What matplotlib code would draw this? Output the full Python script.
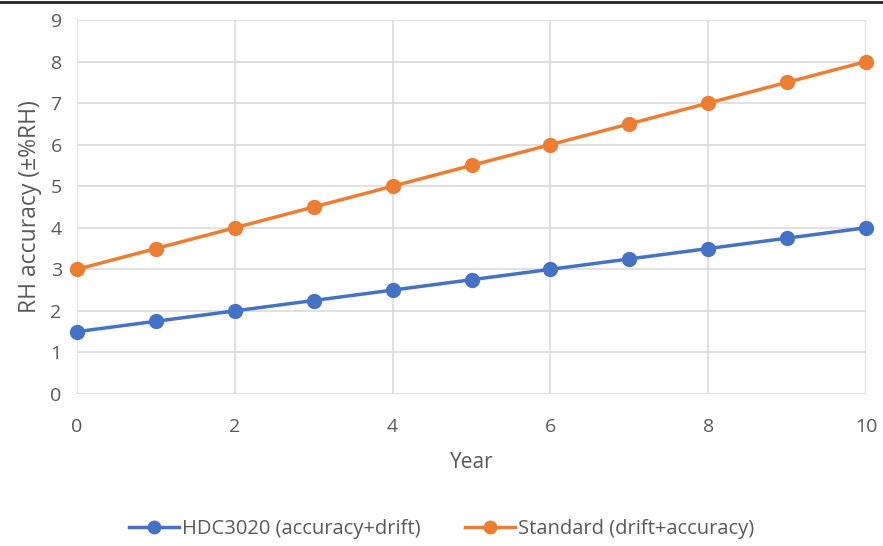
import matplotlib
matplotlib.use("Agg")
import matplotlib.pyplot as plt
from matplotlib.lines import Line2D

years = [0, 1, 2, 3, 4, 5, 6, 7, 8, 9, 10]
hdc3020 = [1.5, 1.75, 2.0, 2.25, 2.5, 2.75, 3.0, 3.25, 3.5, 3.75, 4.0]
standard = [3.0, 3.5, 4.0, 4.5, 5.0, 5.5, 6.0, 6.5, 7.0, 7.5, 8.0]
series_labels = ["HDC3020 (accuracy+drift)", "Standard (drift+accuracy)"]
x_ticks = [0, 2, 4, 6, 8, 10]
y_ticks = [0, 1, 2, 3, 4, 5, 6, 7, 8, 9]

plt.rcParams['font.family'] = ['Open Sans', 'DejaVu Sans']

fig = plt.figure(figsize=(8.83, 5.46), dpi=100)
ax = fig.add_axes([77/883, 1-394/546, (866-77)/883, (394-20)/546])

blue = "#4472C4"
orange = "#ED7D31"
ax.plot(years, hdc3020, color=blue, lw=2.5, marker="o", ms=10, label=series_labels[0], zorder=3, clip_on=False)
ax.plot(years, standard, color=orange, lw=2.5, marker="o", ms=10, label=series_labels[1], zorder=3, clip_on=False)

ax.set_xlim(0, 10)
ax.set_ylim(0, 9)
ax.set_xticks(x_ticks)
ax.set_yticks(y_ticks)
ax.grid(True, color="#dcdcdc", lw=1.2)
ax.set_axisbelow(True)
for s in ax.spines.values():
    s.set_visible(False)
ax.tick_params(length=0, labelsize=14, colors="#595959", pad=11)
ax.tick_params(axis="x", pad=17)
ax.set_xlabel("Year", fontsize=15, color="#595959", labelpad=12)
ax.set_ylabel("RH accuracy (±%RH)", fontsize=16.5, color="#595959", labelpad=6)

leg = fig.legend(loc="center", bbox_to_anchor=(0.5, 1-529/546), ncol=2, frameon=False,
                 fontsize=14.5, handlelength=2.5, columnspacing=2.2, handletextpad=0.15,
                 markerscale=0.9)
for t in leg.get_texts():
    t.set_color("#595959")

fig.add_artist(Line2D([0, 1], [1-1.5/546, 1-1.5/546], color="#222222", lw=2, transform=fig.transFigure))

fig.savefig("out.png", dpi=100)
